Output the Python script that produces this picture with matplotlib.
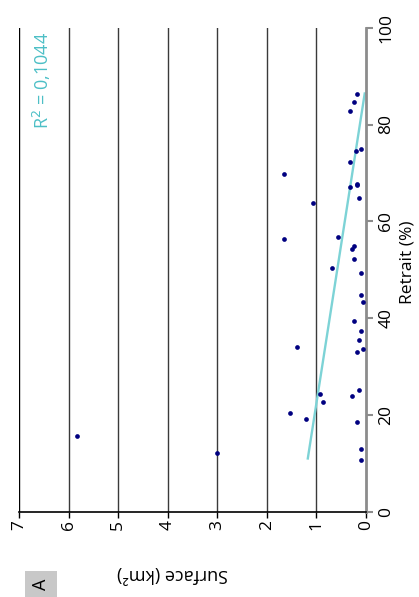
import matplotlib
matplotlib.use("Agg")
import matplotlib.pyplot as plt
from matplotlib.patches import Rectangle

plt.rcParams['font.family'] = ['Open Sans', 'DejaVu Sans']

retrait = [86.4, 84.6, 82.7, 74.9, 74.5, 72.3, 69.7, 67.1, 67.4, 67.8, 64.9, 63.8,
           56.8, 56.3, 54.9, 54.2, 52.3, 50.4, 49.3, 44.8, 43.4, 39.3, 37.4, 35.5,
           34.1, 33.7, 32.9, 25.1, 24.4, 24.0, 22.6, 20.4, 19.2, 18.5, 12.9, 10.7,
           12.2, 15.6]
surface = [0.18, 0.23, 0.32, 0.09, 0.19, 0.32, 1.66, 0.32, 0.18, 0.18, 0.14, 1.06,
           0.55, 1.66, 0.23, 0.28, 0.23, 0.69, 0.09, 0.09, 0.05, 0.23, 0.09, 0.14,
           1.39, 0.05, 0.18, 0.14, 0.92, 0.28, 0.87, 1.53, 1.20, 0.18, 0.09, 0.09,
           3.0, 5.84]

# linear trend line end points
trend_retrait = [11.0, 86.4]
trend_surface = [1.17, 0.02]
r2_label = 'R$^2$ = 0,1044'

surface_ticks = [0, 1, 2, 3, 4, 5, 6, 7]
retrait_ticks = [0, 20, 40, 60, 80, 100]

W, H = 419, 597
fig = plt.figure(figsize=(W / 100, H / 100), dpi=100)
ax = fig.add_axes([19.3 / W, 1 - 511.7 / H, (365.7 - 19.3) / W, (511.7 - 27.7) / H])

# chart is drawn turned a quarter turn: surface runs right-to-left, retrait bottom-to-top
ax.set_xlim(7, 0)
ax.set_ylim(0, 100)

for s in surface_ticks[1:]:
    ax.axvline(s, color='#3a3a3a' if s < 7 else 'black', lw=1.0, zorder=1)

ax.plot(trend_surface, trend_retrait, color='#7dd3d6', lw=1.7, zorder=2)
ax.plot(surface, retrait, 'o', color='#000080', ms=3.4, mec='none', zorder=3)

ax.spines['top'].set_visible(False)
ax.spines['left'].set_visible(False)
ax.spines['right'].set_color('#8c8c8c')
ax.spines['right'].set_linewidth(2)
ax.spines['bottom'].set_color('black')
ax.spines['bottom'].set_linewidth(1.2)

ax.set_xticks(surface_ticks)
ax.set_xticklabels([str(t) for t in surface_ticks])
ax.tick_params(axis='x', direction='out', length=4, width=1, color='black',
               labelsize=12.5, labelrotation=90, pad=2)

ax.yaxis.tick_right()
ax.set_yticks(retrait_ticks)
ax.set_yticklabels([str(t) for t in retrait_ticks])
ax.tick_params(axis='y', direction='out', length=5, width=1.5, color='#8c8c8c',
               labelsize=12.5, labelrotation=90, pad=4)
for lab in ax.get_yticklabels():
    lab.set_va('center')

fig.text(407 / W, 1 - 262 / H, 'Retrait (%)', rotation=90, ha='center', va='center', fontsize=12.5)
fig.text(172 / W, 1 - 574 / H, 'Surface (km²)', rotation=180, ha='center', va='center', fontsize=13)
fig.text(42 / W, 1 - 80 / H, r2_label, rotation=90, ha='center', va='center',
         fontsize=13, color='#4cbfc6')

fig.patches.append(Rectangle((25 / W, 1 - 597 / H), 32 / W, 26 / H,
                             transform=fig.transFigure, facecolor='#c8c8c8',
                             edgecolor='none'))
fig.text(41 / W, 1 - 584 / H, 'A', rotation=90, ha='center', va='center', fontsize=13)

fig.savefig('out.png', dpi=100)
